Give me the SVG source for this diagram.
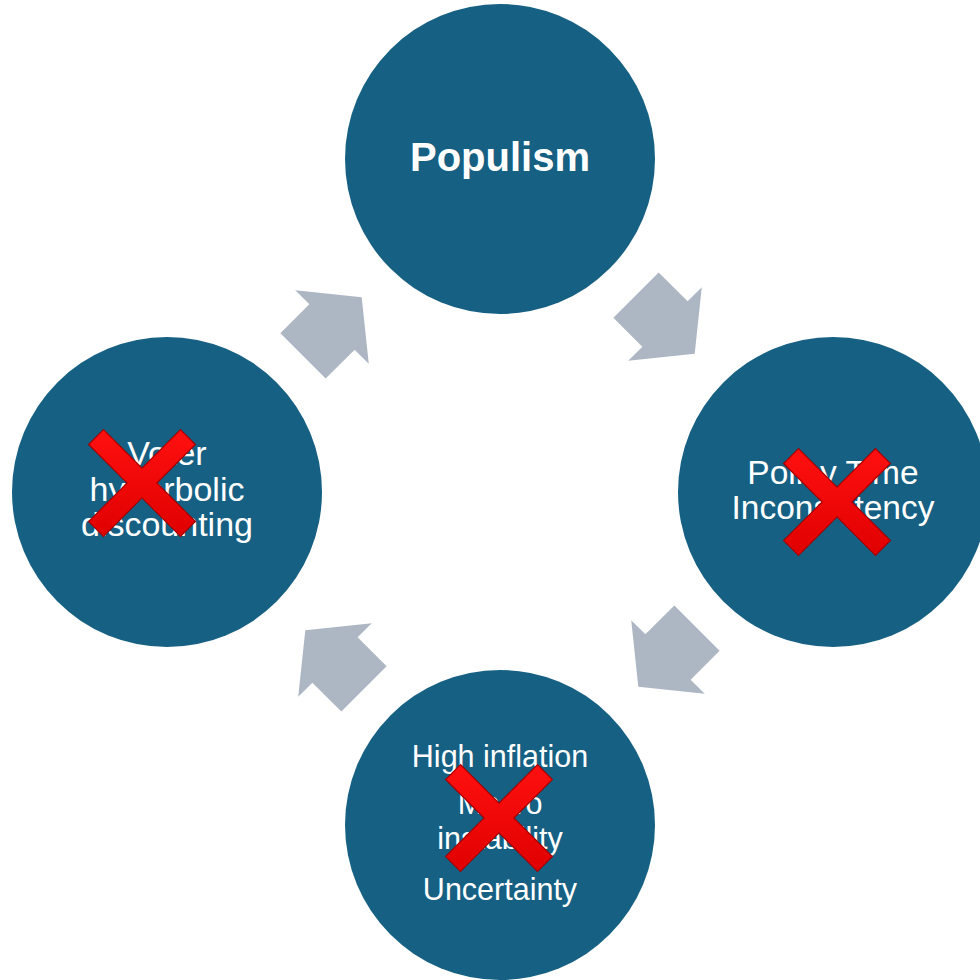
<svg xmlns="http://www.w3.org/2000/svg" width="980" height="980" viewBox="0 0 980 980">
  <defs>
    <style>
      .node { fill: #166083; }
      .arrow { fill: #ACB7C3; }
      .label { fill: #ffffff; font-family: "Liberation Sans", Arial, sans-serif; text-anchor: middle; }
      .title { font-weight: bold; font-size: 40px; }
      .cross { fill: url(#crossFill); stroke: #A30000; stroke-width: 1.2; stroke-linejoin: miter; }
    </style>
    <linearGradient id="crossFill" x1="0" y1="0" x2="0" y2="1">
      <stop offset="0" stop-color="#FF1010"/>
      <stop offset="1" stop-color="#E00000"/>
    </linearGradient>
    <!-- block arrow pointing along +x, centred on the base of its head -->
    <polygon id="blockArrow" points="-41,-32 0,-32 0,-52 42,0 0,52 0,32 -41,32"/>
    <!-- multiplication sign -->
    <polygon id="xMark" points="-38.5,-53.4 -53.4,-38.5 -14.85,0 -53.4,38.5 -38.5,53.4 0,14.85 38.5,53.4 53.4,38.5 14.85,0 53.4,-38.5 38.5,-53.4 0,-14.85"/>
  </defs>

  <rect width="980" height="980" fill="#ffffff"/>

  <!-- cycle connectors -->
  <g id="connectors" class="arrow">
    <use href="#blockArrow" transform="translate(332,327) rotate(-45)"/>
    <use href="#blockArrow" transform="translate(665,324) rotate(45)"/>
    <use href="#blockArrow" transform="translate(668,657) rotate(135)"/>
    <use href="#blockArrow" transform="translate(335,660) rotate(-135)"/>
  </g>

  <g id="populism">
    <circle class="node" cx="500" cy="159" r="155"/>
    <text class="label title" x="500" y="171">Populism</text>
  </g>

  <g id="policy-time-inconsistency">
    <circle class="node" cx="833" cy="492" r="155"/>
    <text class="label" font-size="33.5" x="833" y="484">Policy Time</text>
    <text class="label" font-size="33.5" x="833" y="519">Inconsistency</text>
    <use class="cross" href="#xMark" x="837" y="502"/>
  </g>

  <g id="macro-outcomes">
    <circle class="node" cx="500" cy="825" r="155"/>
    <text class="label" font-size="30.5" x="500" y="767">High inflation</text>
    <text class="label" font-size="30.5" x="500" y="814">Macro</text>
    <text class="label" font-size="30.5" x="500" y="849">instability</text>
    <text class="label" font-size="30.5" x="500" y="900">Uncertainty</text>
    <use class="cross" href="#xMark" x="499" y="818"/>
  </g>

  <g id="voter-discounting">
    <circle class="node" cx="167" cy="492" r="155"/>
    <text class="label" font-size="34" x="167" y="465">Voter</text>
    <text class="label" font-size="34" x="167" y="501">hyperbolic</text>
    <text class="label" font-size="34" x="167" y="536">discounting</text>
    <use class="cross" href="#xMark" x="142" y="483"/>
  </g>
</svg>
